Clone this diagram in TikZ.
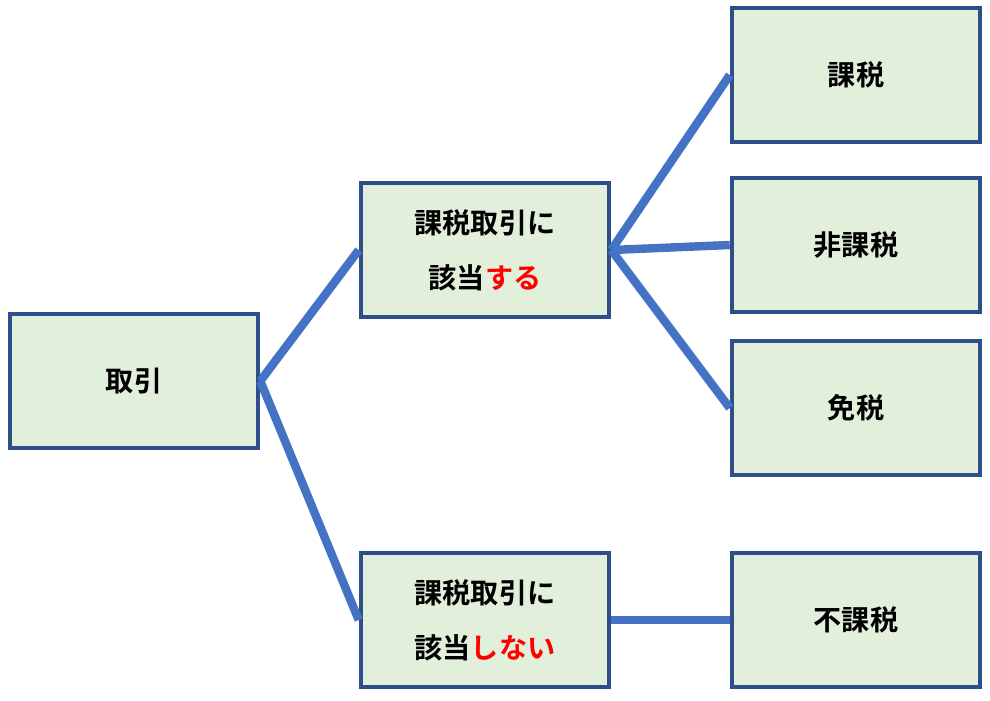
\documentclass[tikz,border=0pt]{standalone}
\usepackage{fontspec}
\newfontfamily\jpfont{Noto Sans CJK JP}[BoldFont={Noto Sans CJK JP Bold}]
\usetikzlibrary{positioning}
\definecolor{boxfill}{HTML}{E2EFDA}
\definecolor{boxline}{HTML}{2F4F8A}
\definecolor{link}{HTML}{4472C4}
\tikzset{
  box/.style={draw=boxline, line width=3.2pt, fill=boxfill, minimum width=6.2cm,
    minimum height=3.35cm, align=center, font=\jpfont\bfseries\fontsize{20}{39}\selectfont},
  link/.style={draw=link, line width=6pt},
}
\begin{document}
\begin{tikzpicture}[x=0.025cm, y=-0.025cm]
  \useasboundingbox (0,0) rectangle (990,700);
% =========================================================
% boxes
% =========================================================
  \node[box] (torihiki) at (134,381) {取引};
  \node[box] (suru) at (485,250) {課税取引に\\該当\textcolor{red}{する}};
  \node[box] (shinai) at (485,620) {課税取引に\\該当\textcolor{red}{しない}};
  \node[box] (kazei) at (856,75) {課税};
  \node[box] (hikazei) at (856,245) {非課税};
  \node[box] (menzei) at (856,408) {免税};
  \node[box] (fukazei) at (856,620) {不課税};
% =========================================================
% links
% =========================================================
  \draw[link] (torihiki.east) -- (suru.west);
  \draw[link] (torihiki.east) -- (shinai.west);
  \draw[link] (suru.east) -- (kazei.west);
  \draw[link] (suru.east) -- (hikazei.west);
  \draw[link] (suru.east) -- (menzei.west);
  \draw[link] (shinai.east) -- (fukazei.west);
\end{tikzpicture}
\end{document}
